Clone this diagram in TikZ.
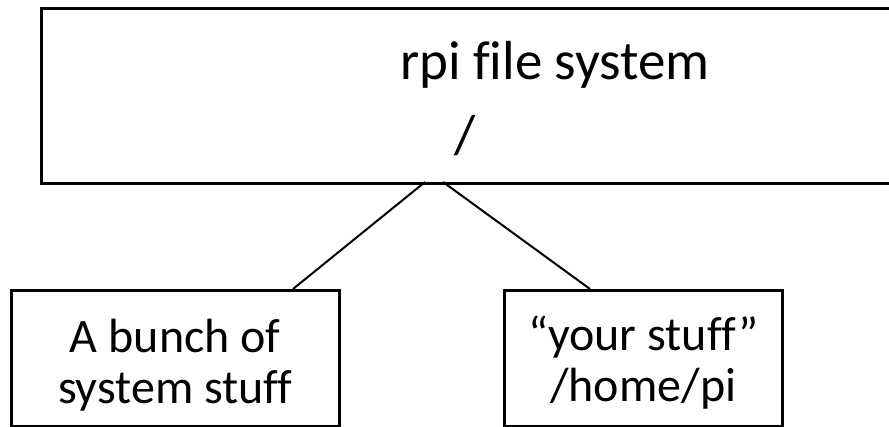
\documentclass[tikz,border=0pt]{standalone}
\usepackage{fontspec}
\setmainfont{Carlito}[Ligatures=NoCommon]
\begin{document}
\begin{tikzpicture}[x=1pt,y=-1pt,
  boxstyle/.style={draw=black,line width=2.6pt,fill=white,inner sep=0pt,anchor=north west},
  conn/.style={draw=black,line width=2pt},
  bigtext/.style={font=\fontsize{55}{60}\selectfont,inner sep=0pt},
  smalltext/.style={font=\fontsize{48}{51}\selectfont,align=center,inner sep=0pt,anchor=base}]
\clip (0,0) rectangle (889,427);
\fill[white] (0,0) rectangle (889,427);
% top box
\node[boxstyle,minimum width=1060pt,minimum height=175pt] (top) at (40,7) {};
\node[bigtext,anchor=base] (title) at (555,80) {rpi file system};
\node[bigtext,anchor=base] (root) at (465,154) {/};
% bottom boxes
\node[boxstyle,minimum width=328pt,minimum height=136pt] (left) at (10,289) {};
\node[smalltext] (lefttext) at (left.center |- 0,403) {A bunch of\\system stuff};
\node[boxstyle,minimum width=278pt,minimum height=136pt] (right) at (503,289) {};
\node[smalltext] (righttext) at (right.center |- 0,402) {“your stuff”\\/home/pi};
% connectors
\coordinate (c1) at (425,182);
\coordinate (c2) at (443,182);
\coordinate (d1) at (293,289);
\coordinate (d2) at (590,289);
\draw[conn] (c1) -- (d1);
\draw[conn] (c2) -- (d2);
\end{tikzpicture}
\end{document}
